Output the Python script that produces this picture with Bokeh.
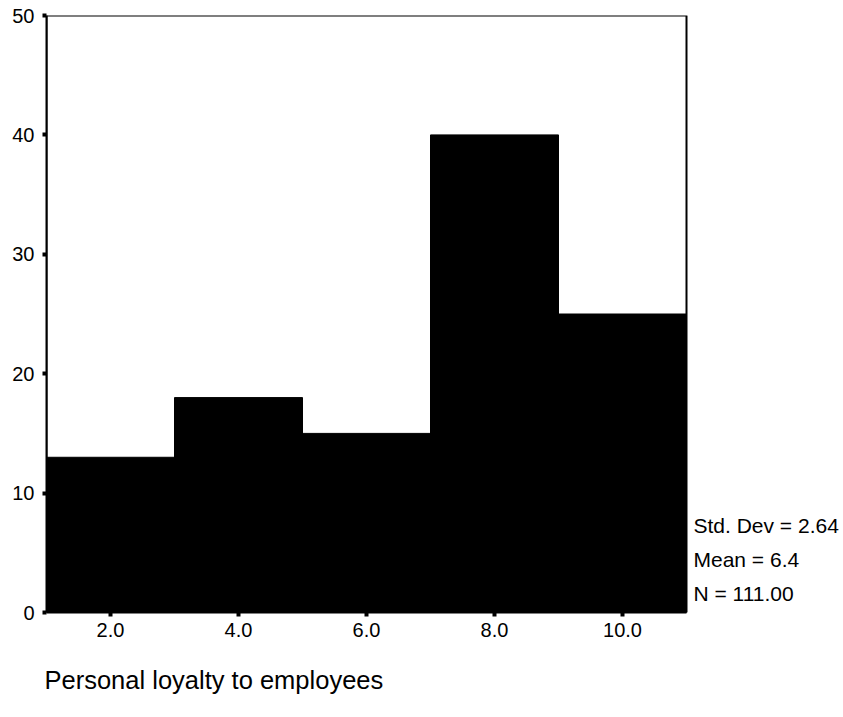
from bokeh.plotting import figure
from bokeh.models import (Range1d, Label, FixedTicker, NumeralTickFormatter,
                          Title, BoxAnnotation)
from bokeh.embed import file_html
from bokeh.resources import INLINE

bin_centers = [2.0, 4.0, 6.0, 8.0, 10.0]
counts = [13, 18, 15, 40, 25]
bin_width = 2.0
x_ticks = [2.0, 4.0, 6.0, 8.0, 10.0]
y_ticks = [0, 10, 20, 30, 40, 50]
stats = ["Std. Dev = 2.64", "Mean = 6.4", "N = 111.00"]
x_title = "Personal loyalty to employees"

FONT = "Liberation Sans"

x_lo = bin_centers[0] - bin_width / 2
x_hi = bin_centers[-1] + bin_width / 2
y_hi = 50

# frame extends to the right so that the statistics text is not clipped;
# the visible box of the chart is drawn only over [x_lo, x_hi]
p = figure(width=843, height=717, output_backend="svg", toolbar_location=None,
           x_range=Range1d(x_lo, x_lo + 797 / 64), y_range=Range1d(0, y_hi),
           min_border_left=46, min_border_top=15, min_border_right=0,
           min_border_bottom=105)

lefts = [c - bin_width / 2 for c in bin_centers]
rights = [c + bin_width / 2 for c in bin_centers]
p.quad(left=lefts, right=rights, bottom=0, top=counts,
       fill_color="black", line_color="black", line_width=1)

p.add_layout(BoxAnnotation(left=x_lo, right=x_hi, bottom=0, top=y_hi,
                           fill_alpha=0, line_color="black", line_alpha=1,
                           line_width=2))

p.grid.visible = False
p.outline_line_color = None

for ax in (p.xaxis[0], p.yaxis[0]):
    ax.axis_line_width = 2
    ax.axis_line_color = "black"
    ax.major_tick_line_width = 4
    ax.major_tick_out = 4
    ax.major_tick_in = 0
    ax.minor_tick_line_color = None
    ax.major_label_text_font = FONT
    ax.major_label_text_font_size = "20px"
    ax.major_label_text_color = "black"

p.xaxis.bounds = (x_lo, x_hi)
p.xaxis.ticker = FixedTicker(ticks=x_ticks)
p.xaxis.formatter = NumeralTickFormatter(format="0.0")
p.xaxis.major_label_standoff = 6
p.yaxis.ticker = FixedTicker(ticks=y_ticks)
p.yaxis.major_label_standoff = 8

stats_baseline = [525, 559, 593]
for txt, yy in zip(stats, stats_baseline):
    p.add_layout(Label(x=693, y=yy, x_units="canvas", y_units="canvas",
                       text=txt, text_font=FONT, text_font_size="21px",
                       text_baseline="alphabetic", text_color="black"))

p.add_layout(Title(text=x_title, align="left",
                   text_font=FONT, text_font_size="25.5px",
                   text_font_style="normal", text_color="black",
                   standoff=48, offset=-2), "below")

open("out.html", "w").write(file_html(p, INLINE))
